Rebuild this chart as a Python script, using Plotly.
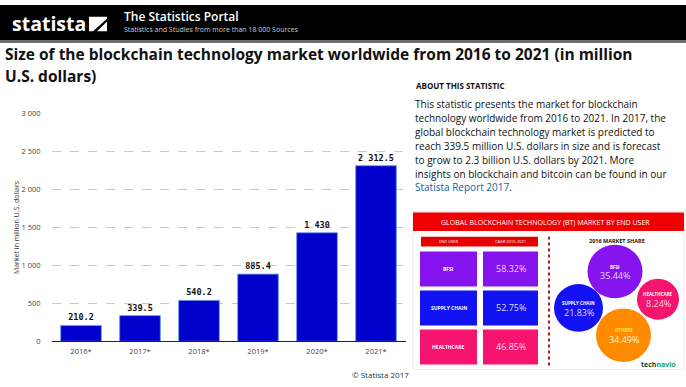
import plotly.graph_objects as go

# ---------------- data ----------------
years = ["2016*", "2017*", "2018*", "2019*", "2020*", "2021*"]
market_values = [210.2, 339.5, 540.2, 885.4, 1430, 2312.5]
y_ticks = [0, 500, 1000, 1500, 2000, 2500, 3000]

end_users = ["BFSI", "SUPPLY CHAIN", "HEALTHCARE"]
cagr_values = [58.32, 52.75, 46.85]
share_labels = ["BFSI", "SUPPLY CHAIN", "HEALTHCARE", "OTHERS"]
share_values = [35.44, 21.83, 8.24, 34.49]

about_lines = [
    "This statistic presents the market for blockchain",
    "technology worldwide from 2016 to 2021. In 2017, the",
    "global blockchain technology market is predicted to",
    "reach 339.5 million U.S. dollars in size and is forecast",
    "to grow to 2.3 billion U.S. dollars by 2021. More",
    "insights on blockchain and bitcoin can be found in our",
]

# ---------------- helpers ----------------
W, H = 686, 387


def X(p):
    return p / W


def Y(p):
    return 1 - p / H


def fmt(v):
    s = f"{v:,.1f}".replace(",", " ")
    if s.endswith(".0"):
        s = s[:-2]
    return s


FONT = "Open Sans, Noto Sans, sans-serif"

fig = go.Figure()
fig.add_trace(go.Bar(
    x=years, y=market_values,
    marker=dict(color="#0000CD", line=dict(color="#6f9fe8", width=1)),
    text=["<b>" + fmt(v) + "</b>" for v in market_values],
    textposition="outside",
    textfont=dict(size=8.5, color="#111", family="DejaVu Sans Mono, monospace"),
    cliponaxis=False,
    width=0.69,
))

shapes = []
annotations = []

# header
shapes.append(dict(type="rect", xref="paper", yref="paper", x0=0, x1=1, y0=Y(36), y1=1,
                   fillcolor="#000", line=dict(width=0), layer="below"))
shapes.append(dict(type="rect", xref="paper", yref="paper", x0=0, x1=1, y0=Y(39), y1=Y(36),
                   fillcolor="#6e6e6e", line=dict(width=0), layer="below"))
# logo icon
shapes.append(dict(type="path", xref="paper", yref="paper",
                   path=f"M {X(89)},{Y(27)} L {X(89)},{Y(12)} L {X(107)},{Y(12)} L {X(107)},{Y(14)} L {X(93)},{Y(27)} Z",
                   fillcolor="#fff", line=dict(width=0)))
shapes.append(dict(type="path", xref="paper", yref="paper",
                   path=f"M {X(97)},{Y(27)} L {X(107)},{Y(17)} L {X(107)},{Y(27)} Z",
                   fillcolor="#fff", line=dict(width=0)))
annotations.append(dict(text="<b>statista</b>", x=X(10), y=Y(19), xref="paper", yref="paper",
                        xanchor="left", yanchor="middle", showarrow=False,
                        font=dict(size=19.5, color="#fff", family=FONT)))
annotations.append(dict(text="The Statistics Portal", x=X(122), y=Y(12), xref="paper", yref="paper",
                        xanchor="left", yanchor="middle", showarrow=False,
                        font=dict(size=12, color="#fff", family=FONT, weight=600)))
annotations.append(dict(text="Statistics and Studies from more than 18 000 Sources", x=X(122), y=Y(25),
                        xref="paper", yref="paper", xanchor="left", yanchor="middle", showarrow=False,
                        font=dict(size=7, color="#ccc", family=FONT)))

# title
annotations.append(dict(text="<b>Size of the blockchain technology market worldwide from 2016 to 2021 (in million</b>",
                        x=X(3), y=Y(50), xref="paper", yref="paper", xanchor="left", yanchor="middle",
                        showarrow=False, font=dict(size=15.5, color="#111", family=FONT)))
annotations.append(dict(text="<b>U.S. dollars)</b>",
                        x=X(3), y=Y(73), xref="paper", yref="paper", xanchor="left", yanchor="middle",
                        showarrow=False, font=dict(size=15.5, color="#111", family=FONT)))

# y-axis title
annotations.append(dict(text="Market in million U.S. dollars", x=X(16), y=Y(228), xref="paper", yref="paper",
                        xanchor="center", yanchor="middle", textangle=-90, showarrow=False,
                        font=dict(size=7, color="#333", family=FONT)))
# source
annotations.append(dict(text="© Statista 2017", x=X(380), y=Y(379), xref="paper", yref="paper",
                        xanchor="center", yanchor="middle", showarrow=False,
                        font=dict(size=8, color="#333", family=FONT)))

# about text
annotations.append(dict(text="<b>ABOUT THIS STATISTIC</b>", x=X(414), y=Y(83), xref="paper", yref="paper",
                        xanchor="left", yanchor="middle", showarrow=False,
                        font=dict(size=8, color="#111", family=FONT)))
for i, line in enumerate(about_lines):
    annotations.append(dict(text=line, x=X(413), y=Y(102 + 14.2 * i), xref="paper", yref="paper",
                            xanchor="left", yanchor="middle", showarrow=False,
                            font=dict(size=10, color="#111", family=FONT)))
annotations.append(dict(text="<span style='color:#1560a8'>Statista Report 2017</span>.", x=X(413),
                        y=Y(102 + 14.2 * 6), xref="paper", yref="paper",
                        xanchor="left", yanchor="middle", showarrow=False,
                        font=dict(size=10, color="#111", family=FONT)))

# infographic
shapes.append(dict(type="rect", xref="paper", yref="paper", x0=X(413), x1=X(684), y0=Y(374), y1=Y(212),
                   fillcolor="#fff", line=dict(color="#f6e4ee", width=1), layer="below"))
shapes.append(dict(type="rect", xref="paper", yref="paper", x0=X(413), x1=X(684), y0=Y(232), y1=Y(213),
                   fillcolor="#f00000", line=dict(width=0)))
annotations.append(dict(text="GLOBAL BLOCKCHAIN TECHNOLOGY (BT) MARKET BY END USER", x=X(545), y=Y(223),
                        xref="paper", yref="paper", xanchor="center", yanchor="middle", showarrow=False,
                        font=dict(size=7, color="#fff", family=FONT)))
shapes.append(dict(type="rect", xref="paper", yref="paper", x0=X(421), x1=X(538), y0=Y(248), y1=Y(238),
                   fillcolor="#e60000", line=dict(width=0)))
annotations.append(dict(text="END USER", x=X(449), y=Y(243), xref="paper", yref="paper",
                        xanchor="center", yanchor="middle", showarrow=False,
                        font=dict(size=4, color="#fff", family=FONT)))
annotations.append(dict(text="CAGR 2016-2021", x=X(510), y=Y(243), xref="paper", yref="paper",
                        xanchor="center", yanchor="middle", showarrow=False,
                        font=dict(size=4, color="#fff", family=FONT)))
row_colors = ["#8514ee", "#1212f2", "#f5146e"]
pct_colors = ["#e4d4ff", "#dcdcff", "#ffd4e4"]
for i, (u, v) in enumerate(zip(end_users, cagr_values)):
    top = 253 + 40 * i
    bot = top + 36
    for (x0, x1) in [(420, 477), (483, 538)]:
        shapes.append(dict(type="rect", xref="paper", yref="paper", x0=X(x0), x1=X(x1), y0=Y(bot), y1=Y(top),
                           fillcolor=row_colors[i], line=dict(width=0)))
    annotations.append(dict(text=f"<b>{u}</b>", x=X(448.5), y=Y(top + 18), xref="paper", yref="paper",
                            xanchor="center", yanchor="middle", showarrow=False,
                            font=dict(size=5, color="#fff", family=FONT)))
    annotations.append(dict(text=f"{v:.2f}%", x=X(510.5), y=Y(top + 18), xref="paper", yref="paper",
                            xanchor="center", yanchor="middle", showarrow=False,
                            font=dict(size=9, color=pct_colors[i], family=FONT)))
# dotted divider
shapes.append(dict(type="line", xref="paper", yref="paper", x0=X(549), x1=X(549), y0=Y(370), y1=Y(238),
                   line=dict(color="#b01818", width=2, dash="dot")))
annotations.append(dict(text="<b>2016 MARKET SHARE</b>", x=X(617), y=Y(242), xref="paper", yref="paper",
                        xanchor="center", yanchor="middle", showarrow=False,
                        font=dict(size=5.5, color="#111", family=FONT)))
# bubbles: (cx, cy, r, color, label color, pct color)
bubble_geom = [
    (615, 273.5, 27.5, "#8514ee", "#fff", "#e4d4ff"),
    (578.5, 311, 24.5, "#1212f2", "#fff", "#dcdcff"),
    (658, 302, 21, "#f5146e", "#fff", "#ffd4e4"),
    (623.5, 339, 27.5, "#ff8a00", "#ffe85a", "#fff2c8"),
]
for (lab, val), (cx, cy, r, col, lc, pc) in zip(zip(share_labels, share_values), bubble_geom):
    shapes.append(dict(type="circle", xref="paper", yref="paper", x0=X(cx - r), x1=X(cx + r),
                       y0=Y(cy + r), y1=Y(cy - r), fillcolor=col, line=dict(width=0)))
    annotations.append(dict(text=f"<b>{lab}</b>", x=X(cx), y=Y(cy - 5), xref="paper", yref="paper",
                            xanchor="center", yanchor="middle", showarrow=False,
                            font=dict(size=4.5, color=lc, family=FONT)))
    annotations.append(dict(text=f"{val:.2f}%", x=X(cx), y=Y(cy + 4.5), xref="paper", yref="paper",
                            xanchor="center", yanchor="middle", showarrow=False,
                            font=dict(size=9, color=pc, family=FONT)))
annotations.append(dict(text="<b><span style='color:#0f3f3a'>tech</span><span style='color:#18a070'>navio</span></b>",
                        x=X(678), y=Y(369), xref="paper", yref="paper",
                        xanchor="right", yanchor="middle", showarrow=False,
                        font=dict(size=7, family=FONT)))

fig.update_layout(
    width=W, height=H,
    margin=dict(l=0, r=0, t=0, b=0),
    paper_bgcolor="#fff", plot_bgcolor="#fff",
    separators=". ",
    showlegend=False,
    shapes=shapes,
    annotations=annotations,
    bargap=0.3,
    xaxis=dict(domain=[X(51.5), X(405.5)], showline=True, linecolor="#222", linewidth=1,
               showgrid=False, ticks="", tickfont=dict(size=7.5, color="#444", family=FONT),
               ticklabelstandoff=3, fixedrange=True),
    yaxis=dict(domain=[Y(345.3), Y(111.3)], range=[0, 3000], tickvals=y_ticks,
               separatethousands=True,
               showgrid=True, gridcolor="#c8c8c8", griddash="dash", gridwidth=1,
               zeroline=False, showline=False, ticks="", ticklabelstandoff=10,
               tickfont=dict(size=7.5, color="#444", family=FONT), fixedrange=True),
)

fig.write_html("out.html", config={"displayModeBar": False, "staticPlot": True},
               post_script="document.body.style.margin='0';document.body.style.overflow='hidden';")
